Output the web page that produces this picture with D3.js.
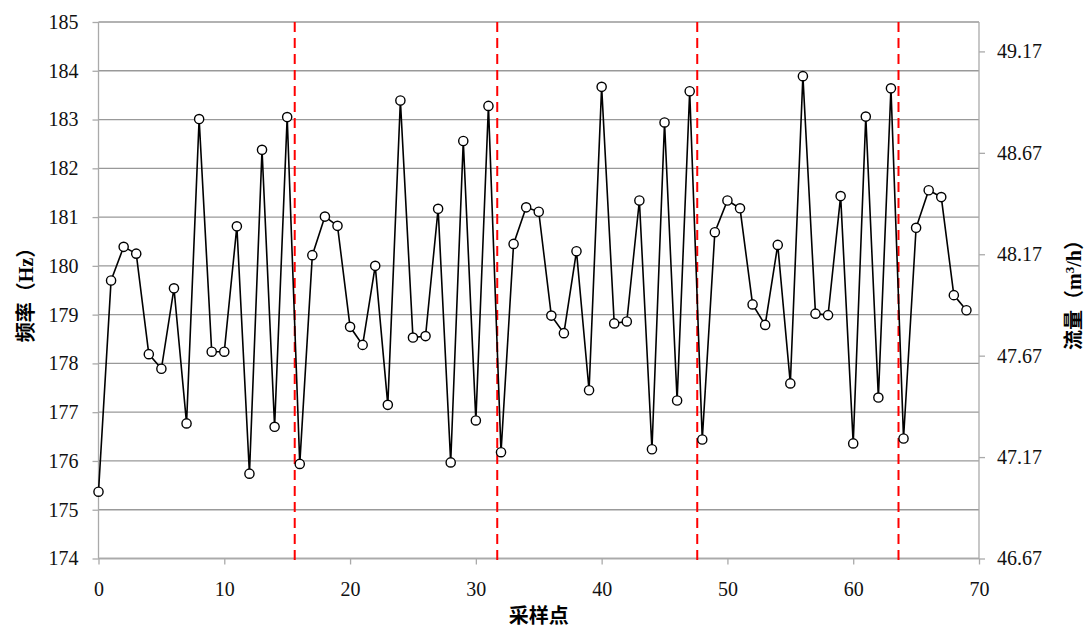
<!DOCTYPE html>
<html>
<head>
<meta charset="utf-8">
<script src="https://cdn.jsdelivr.net/npm/d3@7"></script>
<style>
  body { margin: 0; background: #fff; }
</style>
</head>
<body>
<div id="chart"></div>
<script>
// sample index and frequency readings (Hz)
var samples = d3.range(0, 70);
var freq = [
  175.37, 179.70, 180.39, 180.25, 178.19, 177.89, 179.54, 176.77, 183.01, 178.24,
  178.24, 180.81, 175.74, 182.38, 176.70, 183.05, 175.94, 180.22, 181.01, 180.82,
  178.75, 178.38, 180.00, 177.15, 183.39, 178.53, 178.56, 181.17, 175.97, 182.56,
  176.83, 183.28, 176.18, 180.45, 181.20, 181.11, 178.98, 178.62, 180.30, 177.45,
  183.67, 178.82, 178.86, 181.34, 176.24, 182.94, 177.24, 183.58, 176.44, 180.69,
  181.34, 181.18, 179.21, 178.79, 180.43, 177.59, 183.89, 179.02, 178.99, 181.43,
  176.36, 183.06, 177.30, 183.64, 176.46, 180.78, 181.55, 181.41, 179.40, 179.09
];
// red dashed segment boundaries
var splits = [15.6, 31.7, 47.6, 63.6];
var xTicks = [0, 10, 20, 30, 40, 50, 60, 70];
var leftTicks = d3.range(174, 186);
var rightTicks = [46.67, 47.17, 47.67, 48.17, 48.67, 49.17];

var FONT = "'Liberation Serif', 'Times New Roman', 'Noto Sans CJK SC', serif";

var width = 1087, height = 628;
var margin = {top: 22, right: 108, bottom: 69.5, left: 98.5};
var w = width - margin.left - margin.right;
var h = height - margin.top - margin.bottom;

var x = d3.scaleLinear().domain([0, 70]).range([0, w]);
var y = d3.scaleLinear().domain([174, 185]).range([h, 0]);
var y2 = d3.scaleLinear().domain([46.67, 49.315]).range([h, 0]);

var svg = d3.select("#chart").append("svg")
    .attr("width", width)
    .attr("height", height)
    .attr("font-family", FONT);

var g = svg.append("g")
    .attr("transform", "translate(" + margin.left + "," + margin.top + ")");

// horizontal grid
g.append("g")
  .selectAll("line")
  .data(leftTicks).enter().append("line")
    .attr("x1", 0).attr("x2", w)
    .attr("y1", function(d) { return y(d); })
    .attr("y2", function(d) { return y(d); })
    .attr("stroke", "#999")
    .attr("stroke-width", 1.3);

// left axis
var leftAxis = g.append("g")
  .call(d3.axisLeft(y).tickValues(leftTicks).tickSize(6).tickPadding(14).tickFormat(d3.format("d")));

// bottom axis
var bottomAxis = g.append("g")
  .attr("transform", "translate(0," + h + ")")
  .call(d3.axisBottom(x).tickValues(xTicks).tickSize(6).tickPadding(17).tickFormat(d3.format("d")));

// right axis
var rightAxis = g.append("g")
  .attr("transform", "translate(" + w + ",0)")
  .call(d3.axisRight(y2).tickValues(rightTicks).tickSize(6).tickPadding(12).tickFormat(d3.format(".2f")));

[leftAxis, bottomAxis, rightAxis].forEach(function(a) {
  a.attr("font-family", FONT);
  a.select(".domain").attr("stroke", "#aaa").attr("stroke-width", 1.3);
  a.selectAll(".tick line").attr("stroke", "#aaa").attr("stroke-width", 1.3);
  a.selectAll(".tick text").attr("font-size", 20).attr("fill", "#111");
});
leftAxis.select(".domain").attr("d", "M0," + h + "V0");
rightAxis.select(".domain").attr("d", "M0," + h + "V0");
bottomAxis.select(".domain").attr("d", "M0,0H" + w);

// red dashed lines
g.append("g")
  .selectAll("line")
  .data(splits).enter().append("line")
    .attr("x1", function(d) { return x(d); })
    .attr("x2", function(d) { return x(d); })
    .attr("y1", 0).attr("y2", h + 3)
    .attr("stroke", "#ff0000")
    .attr("stroke-width", 2)
    .attr("stroke-dasharray", "10,6");

// data line
var line = d3.line()
  .x(function(d, i) { return x(samples[i]); })
  .y(function(d) { return y(d); });

g.append("path")
  .datum(freq)
  .attr("fill", "none")
  .attr("stroke", "#000")
  .attr("stroke-width", 1.6)
  .attr("d", line);

g.append("g")
  .selectAll("circle")
  .data(freq).enter().append("circle")
    .attr("cx", function(d, i) { return x(samples[i]); })
    .attr("cy", function(d) { return y(d); })
    .attr("r", 4.6)
    .attr("fill", "#fff")
    .attr("stroke", "#000")
    .attr("stroke-width", 1.4);

// axis titles
svg.append("text")
  .attr("transform", "translate(33,290) rotate(-90)")
  .attr("text-anchor", "middle")
  .attr("font-size", 20)
  .attr("font-weight", "bold")
  .text("频率（Hz）");

svg.append("text")
  .attr("transform", "translate(1081,290) rotate(-90)")
  .attr("text-anchor", "middle")
  .attr("font-size", 20)
  .attr("font-weight", "bold")
  .html("流量（m<tspan baseline-shift='super' font-size='13'>3</tspan>/h）");

svg.append("text")
  .attr("x", margin.left + x(35))
  .attr("y", 623)
  .attr("text-anchor", "middle")
  .attr("font-size", 20)
  .attr("font-weight", "bold")
  .text("采样点");
</script>
</body>
</html>
